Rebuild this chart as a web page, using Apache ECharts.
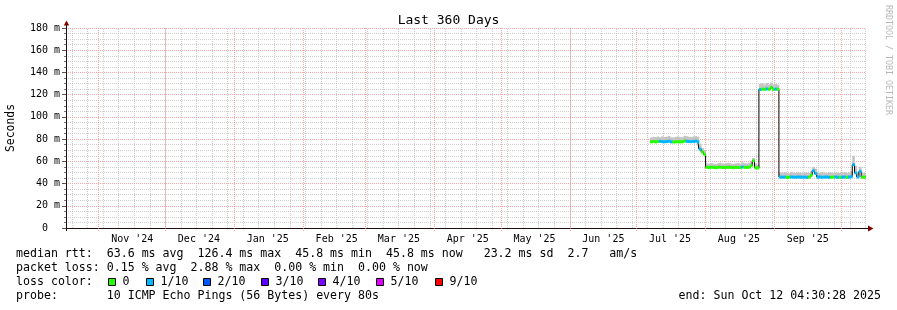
<!DOCTYPE html>
<html>
<head>
<meta charset="utf-8">
<script src="https://cdn.jsdelivr.net/npm/echarts@6.0.0/dist/echarts.min.js"></script>
<style>
html,body{margin:0;padding:0;background:#fff;}
#chart{width:897px;height:310px;}
</style>
</head>
<body>
<div id="chart"></div>
<script>
// ---------- data ----------
const RANGE_START = '2024-10-17T04:30:28Z';
const RANGE_END = '2025-10-12T04:30:28Z';
const MONTH_STARTS = ['2024-11-01','2024-12-01','2025-01-01','2025-02-01','2025-03-01','2025-04-01','2025-05-01','2025-06-01','2025-07-01','2025-08-01','2025-09-01','2025-10-01'];
const MONTH_LABELS = ["Nov '24","Dec '24","Jan '25","Feb '25","Mar '25","Apr '25","May '25","Jun '25","Jul '25","Aug '25","Sep '25"];
const FIRST_WEEK_LINE = '2024-10-20';

const days = [
'2025-07-07','2025-07-08','2025-07-09','2025-07-10','2025-07-11','2025-07-12','2025-07-13','2025-07-14','2025-07-15','2025-07-16',
'2025-07-17','2025-07-18','2025-07-19','2025-07-20','2025-07-21','2025-07-22','2025-07-23','2025-07-24','2025-07-25','2025-07-26',
'2025-07-27','2025-07-28','2025-07-29','2025-07-30','2025-07-31',
'2025-08-01','2025-08-02','2025-08-03','2025-08-04','2025-08-05','2025-08-06','2025-08-07','2025-08-08','2025-08-09','2025-08-10',
'2025-08-11','2025-08-12','2025-08-13','2025-08-14','2025-08-15','2025-08-16','2025-08-17','2025-08-18','2025-08-19','2025-08-20',
'2025-08-21','2025-08-22','2025-08-23','2025-08-24','2025-08-25','2025-08-26','2025-08-27','2025-08-28','2025-08-29','2025-08-30','2025-08-31',
'2025-09-01','2025-09-02','2025-09-03','2025-09-04','2025-09-05','2025-09-06','2025-09-07','2025-09-08','2025-09-09','2025-09-10',
'2025-09-11','2025-09-12','2025-09-13','2025-09-14','2025-09-15','2025-09-16','2025-09-17','2025-09-18','2025-09-19','2025-09-20',
'2025-09-21','2025-09-22','2025-09-23','2025-09-24','2025-09-25','2025-09-26','2025-09-27','2025-09-28','2025-09-29','2025-09-30',
'2025-10-01','2025-10-02','2025-10-03','2025-10-04','2025-10-05','2025-10-06','2025-10-07','2025-10-08','2025-10-09','2025-10-10','2025-10-11'
];

// median rtt (ms)
const medianRtt = [
77.6,77.8,77.5,77.9,78.0,77.7,77.6,77.8,78.1,77.5,
77.4,77.6,77.7,77.5,77.6,78.3,78.0,77.8,77.7,77.9,
78.2,77.6,71.0,68.5,66.3,
54.6,54.4,54.7,54.5,54.3,54.6,54.8,54.5,54.4,54.6,
54.7,54.5,54.3,54.6,54.5,54.4,54.9,54.6,54.5,54.7,
56.0,60.5,54.2,54.0,124.6,125.0,124.8,125.2,124.9,126.4,124.7,
125.0,124.8,45.9,45.7,45.8,45.6,45.7,45.9,45.8,45.7,
45.9,45.8,45.7,45.8,45.6,45.7,47.5,51.5,49.0,45.8,
45.9,45.7,45.8,45.9,45.6,45.7,45.8,45.9,45.7,45.6,
45.8,45.9,45.6,45.8,46.2,57.0,49.5,45.9,51.0,45.7,45.8
];

// upper edge of the smoke (ms)
const smokeHigh = [
81.5,82.0,81.8,82.3,81.6,82.5,81.9,82.2,82.8,81.7,
81.5,82.0,82.4,81.8,81.6,83.0,82.6,82.1,81.9,82.3,
82.7,82.2,76.0,72.0,69.5,
58.2,57.8,58.5,58.0,57.6,58.3,58.8,58.1,57.9,58.4,
58.6,58.0,57.7,58.2,58.5,58.0,59.0,58.3,58.1,58.7,
59.5,63.0,58.0,57.0,129.5,130.2,129.0,130.5,129.3,131.0,129.2,
129.8,129.0,50.0,49.5,50.2,49.8,49.3,50.4,49.9,49.6,
50.1,49.7,49.4,50.0,49.8,49.5,51.5,55.0,53.5,50.0,
49.6,50.3,49.8,49.5,50.2,49.9,49.6,50.0,49.7,49.5,
49.8,50.2,49.6,50.0,51.0,65.0,56.0,50.1,55.0,49.7,49.5
];

// packet loss class (index into LOSS_COLORS)
const lossClass = [
0,0,0,0,1,1,1,1,1,1,
0,0,0,0,0,0,1,1,1,1,
1,1,1,0,0,
0,0,0,0,0,0,0,0,0,0,
0,0,0,0,0,0,1,0,0,0,
0,0,0,0,1,0,0,1,0,0,0,
1,0,1,1,1,0,0,1,1,1,
1,1,1,1,1,0,0,1,1,1,
1,1,1,1,1,0,0,1,1,0,
1,1,0,1,1,1,1,1,1,0,0
];

const LOSS_COLORS = ['#26ff00','#00b8ff','#0059ff','#5e00ff','#7e00ff','#dd00ff','#ff0000'];
const LOSS_LABELS = ['0','1/10','2/10','3/10','4/10','5/10','9/10'];

const LEGEND_LINES = [
  'median rtt:  63.6 ms avg  126.4 ms max  45.8 ms min  45.8 ms now   23.2 ms sd  2.7   am/s',
  'packet loss: 0.15 % avg  2.88 % max  0.00 % min  0.00 % now',
  'loss color:',
  'probe:       10 ICMP Echo Pings (56 Bytes) every 80s'
];
const END_TEXT = 'end: Sun Oct 12 04:30:28 2025';
const TITLE = 'Last 360 Days';
const WATERMARK = 'RRDTOOL / TOBI OETIKER';

// ---------- build ----------
const DAY = 86400000, HALF = DAY / 2;
const tStart = Date.parse(RANGE_START), tEnd = Date.parse(RANGE_END);
const dayCenters = days.map(d => Date.parse(d + 'T00:00:00Z') + HALF);
const monthTs = MONTH_STARTS.map(d => Date.parse(d + 'T00:00:00Z'));
const labelTs = MONTH_LABELS.map((_, i) => monthTs[i] + 15 * DAY);

const gridLines = [];
for (let t = Date.parse(FIRST_WEEK_LINE + 'T00:00:00Z'); t < tEnd; t += 7 * DAY) gridLines.push([t, 0]);
monthTs.forEach(t => gridLines.push([t, 1]));

const smokeData = dayCenters.map((t, i) => [t, medianRtt[i], smokeHigh[i]]);
const bandData = dayCenters.map((t, i) => [t, medianRtt[i], lossClass[i]]);
const lineData = dayCenters.map((t, i) => [t, medianRtt[i]]);

const MONO = '"DejaVu Sans Mono", monospace';
const GRID_MINOR = 'rgba(191,191,191,0.75)';
const GRID_MAJOR = 'rgba(245,128,128,0.7)';
const AXIS_COL = '#201010';
const ARROW_COL = '#800000';

const graphics = [];
LEGEND_LINES.forEach((s, i) => {
  graphics.push({type:'text', x:16, y:254 + i*14, silent:true,
    style:{text:s, font:'11.6px ' + MONO, fill:'#000', verticalAlign:'middle', textAlign:'left'}});
});
graphics.push({type:'text', x:881, y:296, silent:true,
  style:{text:END_TEXT, font:'11.6px ' + MONO, fill:'#000', verticalAlign:'middle', textAlign:'right'}});
const boxX = [108,146,203,261,318,376,435];
LOSS_LABELS.forEach((lab, i) => {
  graphics.push({type:'rect', silent:true, shape:{x:boxX[i]+0.5, y:278.5, width:7, height:7},
    style:{fill:LOSS_COLORS[i], stroke:'#000', lineWidth:1}});
  graphics.push({type:'text', x:boxX[i]+14.5, y:282, silent:true,
    style:{text:lab, font:'11.6px ' + MONO, fill:'#000', verticalAlign:'middle', textAlign:'left'}});
});
graphics.push({type:'text', x:888.5, y:5, rotation:-Math.PI/2, silent:true,
  style:{text:WATERMARK, font:'8.3px ' + MONO, fill:'#b8b8b8', verticalAlign:'middle', textAlign:'left'}});
graphics.push({type:'line', silent:true, shape:{x1:62, y1:228.5, x2:66, y2:228.5}, style:{stroke:AXIS_COL, lineWidth:1}});
graphics.push({type:'line', silent:true, shape:{x1:866, y1:228.5, x2:869, y2:228.5}, style:{stroke:AXIS_COL, lineWidth:1}});
graphics.push({type:'line', silent:true, shape:{x1:66.5, y1:28, x2:66.5, y2:24}, style:{stroke:AXIS_COL, lineWidth:1}});
graphics.push({type:'line', silent:true, shape:{x1:66.5, y1:228, x2:66.5, y2:231}, style:{stroke:AXIS_COL, lineWidth:1}});
graphics.push({type:'polygon', silent:true, shape:{points:[[868,225.5],[873.5,228.5],[868,231.5]]}, style:{fill:ARROW_COL}});
graphics.push({type:'polygon', silent:true, shape:{points:[[63.8,25.5],[66.5,20.5],[69.2,25.5]]}, style:{fill:ARROW_COL}});

const chart = echarts.init(document.getElementById('chart'), null, {renderer:'canvas', width:897, height:310});
chart.setOption({
  animation:false,
  backgroundColor:'#ffffff',
  title:{text:TITLE, left:'center', top:9, itemGap:0,
    textStyle:{fontFamily:MONO, fontSize:13, fontWeight:'normal', color:'#000'}},
  grid:{left:66, right:31, top:28, bottom:82, containLabel:false, outerBoundsMode:'none'},
  xAxis:{
    type:'value', min:tStart, max:tEnd, scale:true,
    axisLine:{show:true, lineStyle:{color:AXIS_COL, width:1}},
    axisTick:{show:false},
    splitLine:{show:false},
    axisLabel:{customValues:labelTs, margin:6, fontFamily:MONO, fontSize:10, color:'#000',
      showMinLabel:true, showMaxLabel:true,
      formatter:(v) => { const i = labelTs.indexOf(v); return i >= 0 ? MONTH_LABELS[i] : ''; },
      hideOverlap:false}
  },
  yAxis:{
    type:'value', min:0, max:180, interval:20,
    name:'Seconds', nameLocation:'middle', nameGap:49, nameRotate:90,
    nameTextStyle:{fontFamily:MONO, fontSize:11.4, color:'#000'},
    axisLine:{show:true, lineStyle:{color:AXIS_COL, width:1}},
    axisTick:{show:true, length:4, lineStyle:{color:'#555'}},
    minorTick:{show:true, splitNumber:4, length:2, lineStyle:{color:'#777'}},
    splitLine:{show:true, lineStyle:{color:GRID_MAJOR, type:[1,1], width:1}},
    minorSplitLine:{show:true, lineStyle:{color:GRID_MINOR, type:[1,1], width:1}},
    axisLabel:{margin:6, fontFamily:MONO, fontSize:10, color:'#000',
      formatter:(v) => v === 0 ? '0  ' : v + ' m'}
  },
  series:[
    {
      type:'custom', name:'vgrid', z:1, silent:true, data:gridLines,
      encode:{x:0},
      renderItem:(params, api) => {
        const t = api.value(0), kind = api.value(1);
        const p0 = api.coord([t, 0]), p1 = api.coord([t, 180]);
        const x = Math.floor(p0[0]) + 0.5;
        return {type:'line', shape:{x1:x, y1:p0[1] + (kind ? 3 : 0), x2:x, y2:p1[1]},
          style:{stroke: kind ? GRID_MAJOR : GRID_MINOR, lineWidth:1, lineDash:[1,1]}};
      }
    },
    {
      type:'custom', name:'smoke', z:2, silent:true, data:smokeData,
      encode:{x:0, y:[1,2]},
      renderItem:(params, api) => {
        const t = api.value(0);
        const a = api.coord([t - HALF, api.value(2)]);
        const b = api.coord([t + HALF, api.value(1)]);
        return {type:'rect', shape:{x:a[0], y:a[1], width:b[0]-a[0]+0.4, height:b[1]-a[1]},
          style:{fill:'#c4c4c4'}};
      }
    },
    {
      type:'line', name:'median', z:3, silent:true, data:lineData, step:'middle',
      symbol:'none', lineStyle:{color:'#000', width:1}
    },
    {
      type:'custom', name:'loss', z:4, silent:true, data:bandData,
      encode:{x:0, y:1},
      renderItem:(params, api) => {
        const t = api.value(0), m = api.value(1), li = api.value(2);
        const a = api.coord([t - HALF, m]);
        const b = api.coord([t + HALF, m]);
        return {type:'rect', shape:{x:a[0], y:a[1]-1.5, width:b[0]-a[0]+0.4, height:3},
          style:{fill:LOSS_COLORS[li]}};
      }
    }
  ],
  graphic:graphics
});
</script>
</body>
</html>
